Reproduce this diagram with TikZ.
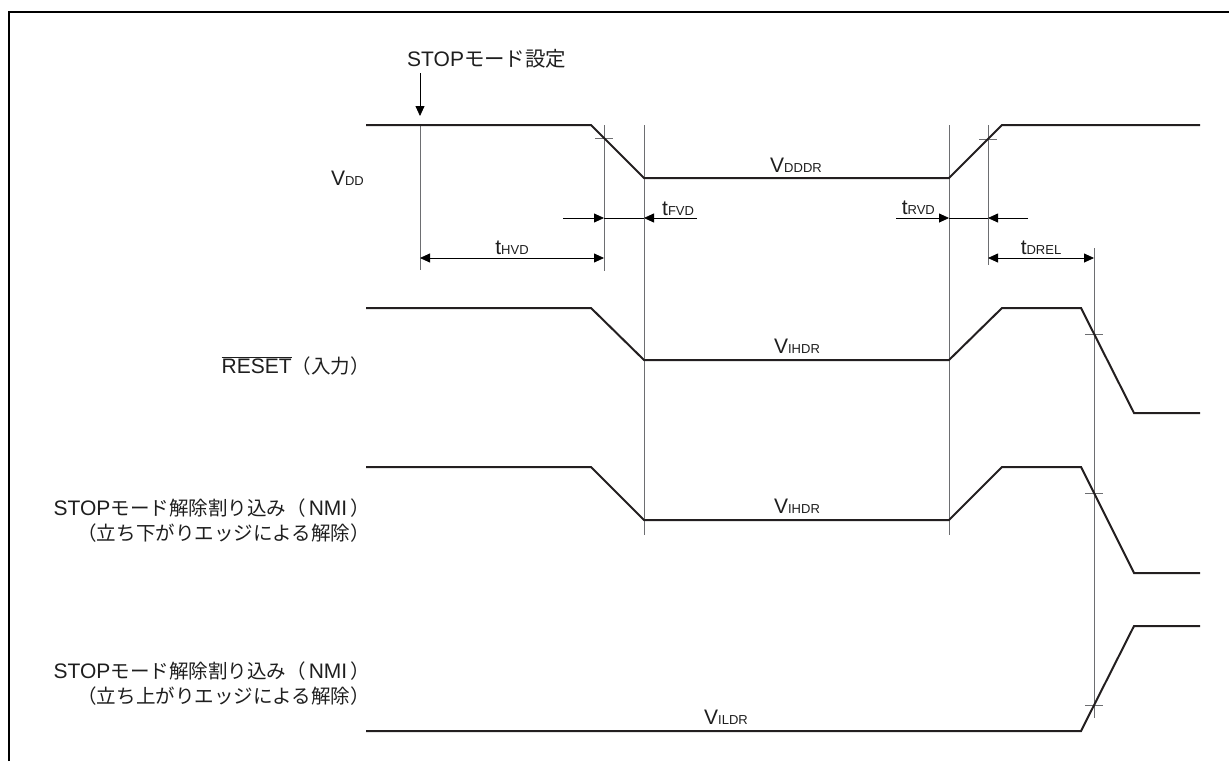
\documentclass[tikz,border=0pt]{standalone}
\usepackage{fontspec}
\setmainfont{Liberation Sans}
\newfontfamily\jp[Scale=0.93]{Noto Sans CJK JP}
\usetikzlibrary{arrows.meta}
\definecolor{sigcol}{HTML}{231F20}
\definecolor{guidecol}{HTML}{6D6E71}
\definecolor{txtcol}{HTML}{1E1E1E}
\newcommand\subl[2]{#1{\fontsize{13}{13}\selectfont #2}}

\begin{document}
\begin{tikzpicture}[x=1pt, y=-1pt,
  signal/.style={draw=sigcol, line width=2pt},
  guide/.style={draw=guidecol, line width=0.9pt},
  dim/.style={draw=black, line width=0.8pt},
  lbl/.style={inner sep=0pt, text=txtcol, font=\fontsize{21}{24}\selectfont},
  >={Triangle[length=10pt,width=9pt]}
]
  \useasboundingbox (0,0) rectangle (1229,761);
  \draw[line width=1.2pt] (9,761) -- (9,12) -- (1229,12);

  % guide lines
  \coordinate (hvdT) at (420,125);  \coordinate (hvdB) at (420,270);
  \coordinate (fa) at (604,125);    \coordinate (faB) at (604,271);
  \coordinate (fb) at (644,125);    \coordinate (fbB) at (644,535);
  \coordinate (ra) at (949,125);    \coordinate (raB) at (949,535);
  \coordinate (rb) at (988,125);    \coordinate (rbB) at (988,265);
  \coordinate (dr) at (1094,248);   \coordinate (drB) at (1094,718);
  \draw[guide] (hvdT) -- (hvdB);
  \draw[guide] (fa) -- (faB);
  \draw[guide] (fb) -- (fbB);
  \draw[guide] (ra) -- (raB);
  \draw[guide] (rb) -- (rbB);
  \draw[guide] (dr) -- (drB);
  \foreach \x/\y in {604/138, 988/139, 1094/334, 1094/493, 1094/705}
    \draw[guide] (\x-9,\y) -- (\x+9,\y);

  % signals
  \draw[signal] (366,125) -- (591,125) -- (644,178) -- (949,178) -- (1002,125) -- (1200,125);
  \draw[signal] (366,308) -- (591,308) -- (644,360) -- (949,360) -- (1002,308)
    -- (1081,308) -- (1134,413) -- (1200,413);
  \draw[signal] (366,467) -- (591,467) -- (644,520) -- (949,520) -- (1002,467)
    -- (1081,467) -- (1134,573) -- (1200,573);
  \draw[signal] (366,731) -- (1081,731) -- (1134,626) -- (1200,626);

  % STOP mode setting
  \node[lbl, anchor=base west] (stop) at (407,66) {STOP{\jp\fontsize{22}{24}\selectfont モード設定}};
  \coordinate (stopA) at (420,73); \coordinate (stopB) at (420,116);
  \draw[dim, ->] (stopA) -- (stopB);

  % timing dimensions
  \coordinate (hvdL) at (420,258);  \coordinate (hvdR) at (604,258);
  \coordinate (fvdA) at (563,218);  \coordinate (fvdB) at (604,218);
  \coordinate (fvdC) at (697,218);  \coordinate (fvdD) at (644,218);
  \coordinate (rvdA) at (896,218);  \coordinate (rvdB) at (949,218);
  \coordinate (rvdC) at (1028,218); \coordinate (rvdD) at (988,218);
  \coordinate (drL) at (988,258);   \coordinate (drR) at (1094,258);
  \draw[dim, <->] (hvdL) -- (hvdR);
  \draw[dim, ->] (fvdA) -- (fvdB);
  \draw[dim] (fvdB) -- (fvdD);
  \draw[dim, ->] (fvdC) -- (fvdD);
  \draw[dim, ->] (rvdA) -- (rvdB);
  \draw[dim] (rvdB) -- (rvdD);
  \draw[dim, ->] (rvdC) -- (rvdD);
  \draw[dim, <->] (drL) -- (drR);
  \node[lbl, anchor=base] (thvd) at (512,254) {\subl{t}{HVD}};
  \node[lbl, anchor=base west] (tfvd) at (662,215) {\subl{t}{FVD}};
  \node[lbl, anchor=base east] (trvd) at (935,214) {\subl{t}{RVD}};
  \node[lbl, anchor=base] (tdrel) at (1041,254) {\subl{t}{DREL}};

  % levels
  \node[lbl, anchor=base] (vdddr) at (796,172) {\subl{V}{DDDR}};
  \node[lbl, anchor=base] (vihdra) at (797,353) {\subl{V}{IHDR}};
  \node[lbl, anchor=base] (vihdrb) at (797,513) {\subl{V}{IHDR}};
  \node[lbl, anchor=base] (vildr) at (726,724) {\subl{V}{ILDR}};

  % signal names
  \node[lbl, anchor=base east] (vdd) at (364,185) {\subl{V}{DD}};
  \node[lbl, anchor=base east] (reset) at (370,373) {$\overline{\mbox{RESET}}${\jp （入力）}};
  \node[lbl, anchor=base east] (nmifa) at (370,515)
    {STOP{\jp モード解除割り込み（}\hspace{3pt}NMI\hspace{3pt}{\jp ）}};
  \node[lbl, anchor=base east] (nmifb) at (370,540) {\jp （立ち下がりエッジによる解除）};
  \node[lbl, anchor=base east] (nmira) at (370,678)
    {STOP{\jp モード解除割り込み（}\hspace{3pt}NMI\hspace{3pt}{\jp ）}};
  \node[lbl, anchor=base east] (nmirb) at (370,703) {\jp （立ち上がりエッジによる解除）};
\end{tikzpicture}
\end{document}
